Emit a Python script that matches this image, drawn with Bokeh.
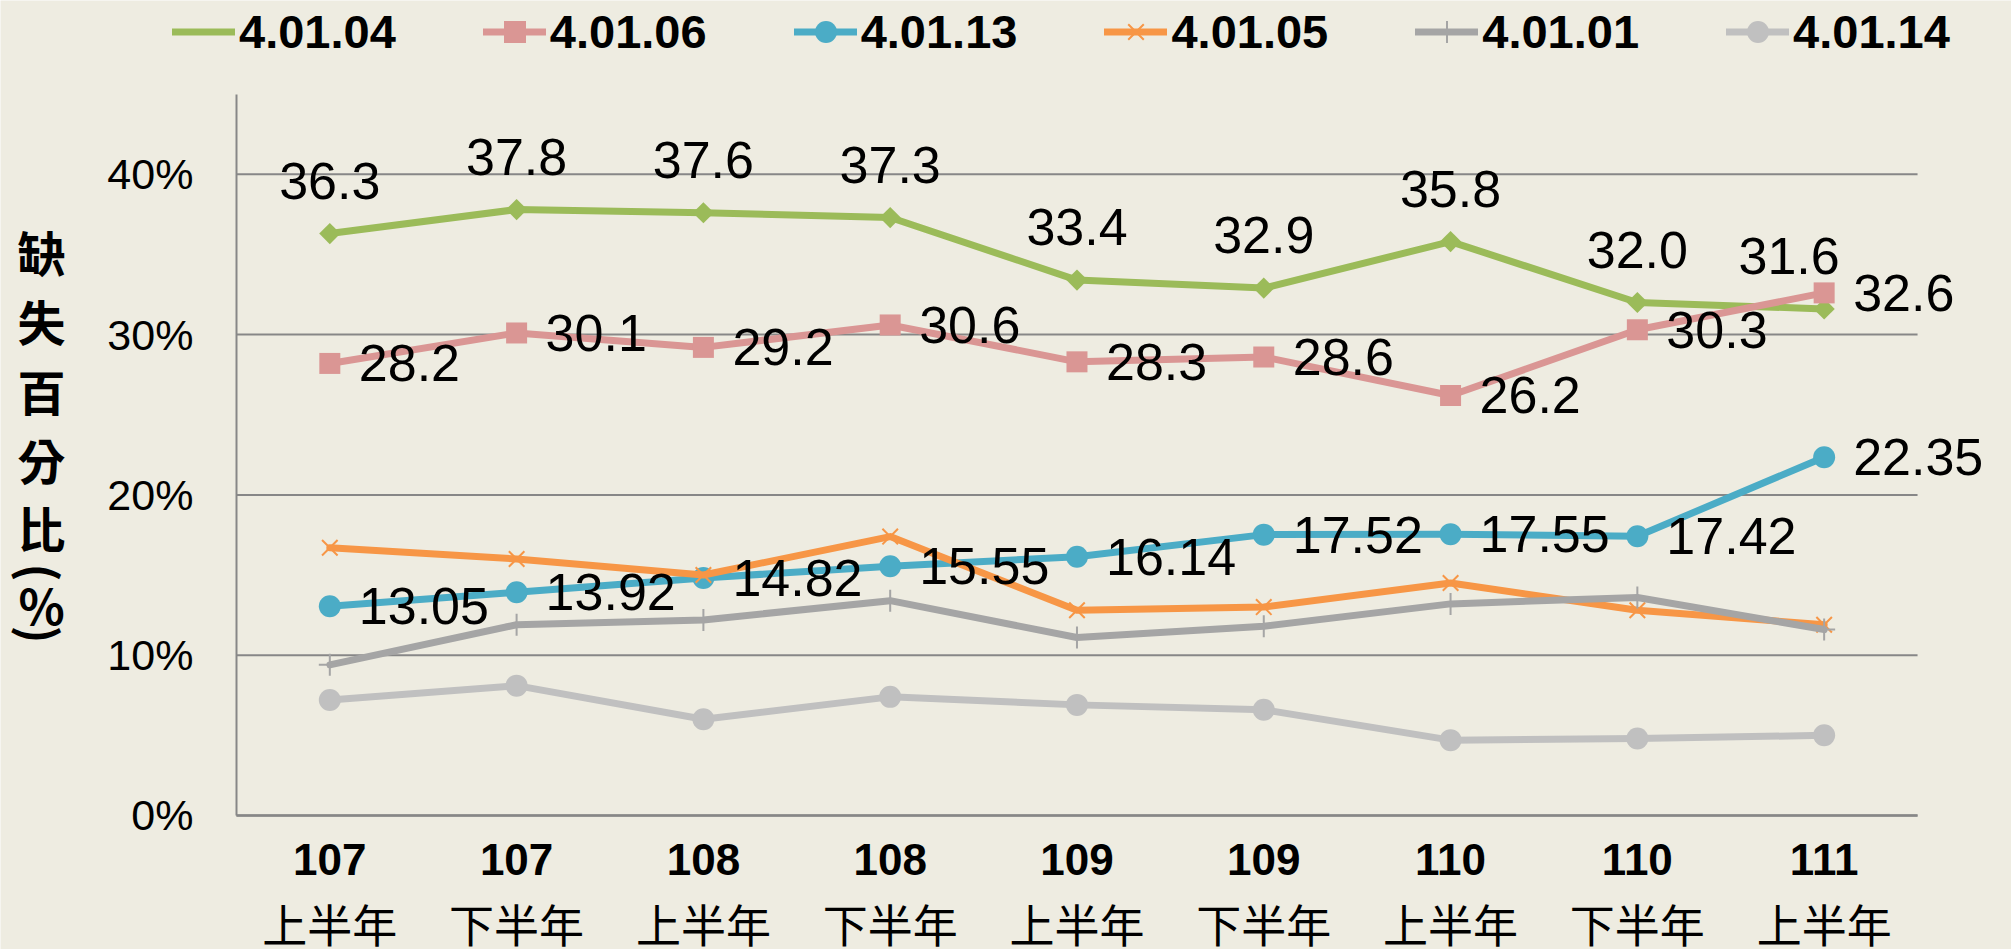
import math
from bokeh.plotting import figure
from bokeh.models import (ColumnDataSource, Range1d, FixedTicker, LinearAxis,
                          PrintfTickFormatter, Legend, LegendItem, LabelSet, Label)
from bokeh.core.properties import value
from bokeh.embed import file_html
from bokeh.resources import INLINE

# ---------------- data ----------------
years = ["107", "107", "108", "108", "109", "109", "110", "110", "111"]
halves = ["上半年", "下半年", "上半年", "下半年", "上半年", "下半年", "上半年", "下半年", "上半年"]

series_names = ["4.01.04", "4.01.06", "4.01.13", "4.01.05", "4.01.01", "4.01.14"]
s_40104 = [36.3, 37.8, 37.6, 37.3, 33.4, 32.9, 35.8, 32.0, 31.6]
s_40106 = [28.2, 30.1, 29.2, 30.6, 28.3, 28.6, 26.2, 30.3, 32.6]
s_40113 = [13.05, 13.92, 14.82, 15.55, 16.14, 17.52, 17.55, 17.42, 22.35]
s_40105 = [16.7, 16.0, 15.0, 17.4, 12.8, 13.0, 14.5, 12.8, 11.9]
s_40101 = [9.4, 11.9, 12.2, 13.4, 11.1, 11.8, 13.2, 13.6, 11.6]
s_40114 = [7.2, 8.1, 6.0, 7.4, 6.9, 6.6, 4.7, 4.8, 5.0]

y_ticks = [0, 10, 20, 30, 40]
y_max = 45
y_title_chars = ["缺", "失", "百", "分", "比", "(", "%", ")"]

# ---------------- style / layout ----------------
BG = "#EEECE1"
GRID = "#878787"
LATIN = "Liberation Sans"
CJK = "Noto Sans CJK TC"
W, H = 2011, 949

idx = list(range(len(years)))
n = len(idx)

# plot area fills the whole canvas; axes are placed at fixed locations inside
p = figure(width=W, height=H,
           x_range=Range1d(-1.763, n + 0.003), y_range=Range1d(-8.36, 50.84),
           x_axis_type=None, y_axis_type=None,
           output_backend="svg", toolbar_location=None,
           min_border=0, min_border_left=0, min_border_right=0,
           min_border_top=0, min_border_bottom=0,
           background_fill_color=BG, border_fill_color=BG,
           outline_line_color=None)
p.grid.visible = False

# horizontal grid lines (limited to the category span)
p.segment(x0=-0.5, x1=n - 0.5, y0=y_ticks, y1=y_ticks, line_color=GRID, line_width=2)

def plain_axis(ax):
    ax.major_tick_out = 0
    ax.major_tick_in = 0
    ax.minor_tick_out = 0
    ax.minor_tick_in = 0
    ax.major_label_text_color = "black"

yaxis = LinearAxis(fixed_location=-0.5, bounds=(0, y_max),
                   ticker=FixedTicker(ticks=y_ticks),
                   formatter=PrintfTickFormatter(format="%d%%"))
plain_axis(yaxis)
yaxis.major_label_text_font = LATIN
yaxis.major_label_text_font_size = "43px"
yaxis.major_label_standoff = 43
yaxis.axis_line_color = GRID
yaxis.axis_line_width = 2
p.add_layout(yaxis, "left")

xaxis = LinearAxis(fixed_location=0, bounds=(-0.5, n - 0.5),
                   ticker=FixedTicker(ticks=idx))
plain_axis(xaxis)
xaxis.major_label_overrides = {i: y for i, y in zip(idx, years)}
xaxis.major_label_text_font = LATIN
xaxis.major_label_text_font_style = "bold"
xaxis.major_label_text_font_size = "44px"
xaxis.major_label_standoff = 29
xaxis.axis_line_color = GRID
xaxis.axis_line_width = 2.5
p.add_layout(xaxis, "below")

xaxis2 = LinearAxis(fixed_location=0, bounds=(-0.5, n - 0.5),
                    ticker=FixedTicker(ticks=idx))
plain_axis(xaxis2)
xaxis2.major_label_overrides = {i: h for i, h in zip(idx, halves)}
xaxis2.major_label_text_font = CJK
xaxis2.major_label_text_font_size = "45px"
xaxis2.major_label_standoff = 76
xaxis2.axis_line_color = None
p.add_layout(xaxis2, "below")

specs = [
    (series_names[0], s_40104, "#9BBB59", dict(marker="square", size=15, angle=math.pi / 4)),
    (series_names[1], s_40106, "#DA9694", dict(marker="square", size=21)),
    (series_names[2], s_40113, "#4BACC6", dict(marker="circle", size=22)),
    (series_names[3], s_40105, "#F79646", dict(marker="x", size=22, line_width=2)),
    (series_names[4], s_40101, "#A5A5A5", dict(marker="cross", size=22, line_width=2)),
    (series_names[5], s_40114, "#C0C0C0", dict(marker="circle", size=22)),
]

items = []
for name, vals, color, mk in specs:
    src = ColumnDataSource(dict(x=idx, y=vals))
    ln = p.line("x", "y", source=src, line_color=color, line_width=7,
                line_join="round", line_cap="round")
    if mk["marker"] in ("x", "cross"):
        sc = p.scatter("x", "y", source=src, line_color=color, fill_color=None, **mk)
    else:
        sc = p.scatter("x", "y", source=src, fill_color=color, line_color=None, **mk)
    leg_marker = sc
    if "angle" in mk:
        # legend sample: upright diamond (no data rows, so nothing is drawn in the plot)
        leg_marker = p.scatter(x=[], y=[], marker="diamond", size=20,
                               fill_color=color, line_color=None)
    items.append(LegendItem(label=name, renderers=[ln, leg_marker]))

# data labels
lab_font = value(LATIN)
LFS = "52px"
g_src = ColumnDataSource(dict(x=idx, y=s_40104,
                              t=[f"{v:.1f}" for v in s_40104],
                              dx=[0] * (n - 1) + [-35]))
p.add_layout(LabelSet(x="x", y="y", text="t", source=g_src, x_offset="dx", y_offset=35,
                      text_align="center", text_baseline="alphabetic",
                      text_font=lab_font, text_font_size=LFS, text_color="black"))
pk_src = ColumnDataSource(dict(x=idx, y=s_40106, t=[f"{v:.1f}" for v in s_40106]))
p.add_layout(LabelSet(x="x", y="y", text="t", source=pk_src, x_offset=29,
                      text_align="left", text_baseline="middle",
                      text_font=lab_font, text_font_size=LFS, text_color="black"))
b_src = ColumnDataSource(dict(x=idx, y=s_40113, t=[f"{v:.2f}" for v in s_40113]))
p.add_layout(LabelSet(x="x", y="y", text="t", source=b_src, x_offset=29,
                      text_align="left", text_baseline="middle",
                      text_font=lab_font, text_font_size=LFS, text_color="black"))

# y-axis title, stacked vertically (pixel centres from the top of the canvas);
# the brackets are turned a quarter turn, as in vertical writing
title_px_y = [250, 319, 389, 458, 526, 572, 603, 634]
for ch, py in zip(y_title_chars, title_px_y):
    turned = ch in ("(", ")")
    p.add_layout(Label(x=41, y=H - py, x_units="screen", y_units="screen",
                       text=ch, angle=-math.pi / 2 if turned else 0,
                       text_align="center", text_baseline="middle",
                       text_font=CJK, text_font_style="bold", text_font_size="48px",
                       text_color="black"))

legend = Legend(items=items, location=(172, 890), orientation="horizontal",
                glyph_width=63, glyph_height=55, label_standoff=4, spacing=87,
                padding=0, margin=0, border_line_color=None, background_fill_alpha=0,
                label_text_font=LATIN, label_text_font_style="bold",
                label_text_font_size="47px", label_text_color="black")
p.add_layout(legend)

open("out.html", "w").write(file_html(p, INLINE))
